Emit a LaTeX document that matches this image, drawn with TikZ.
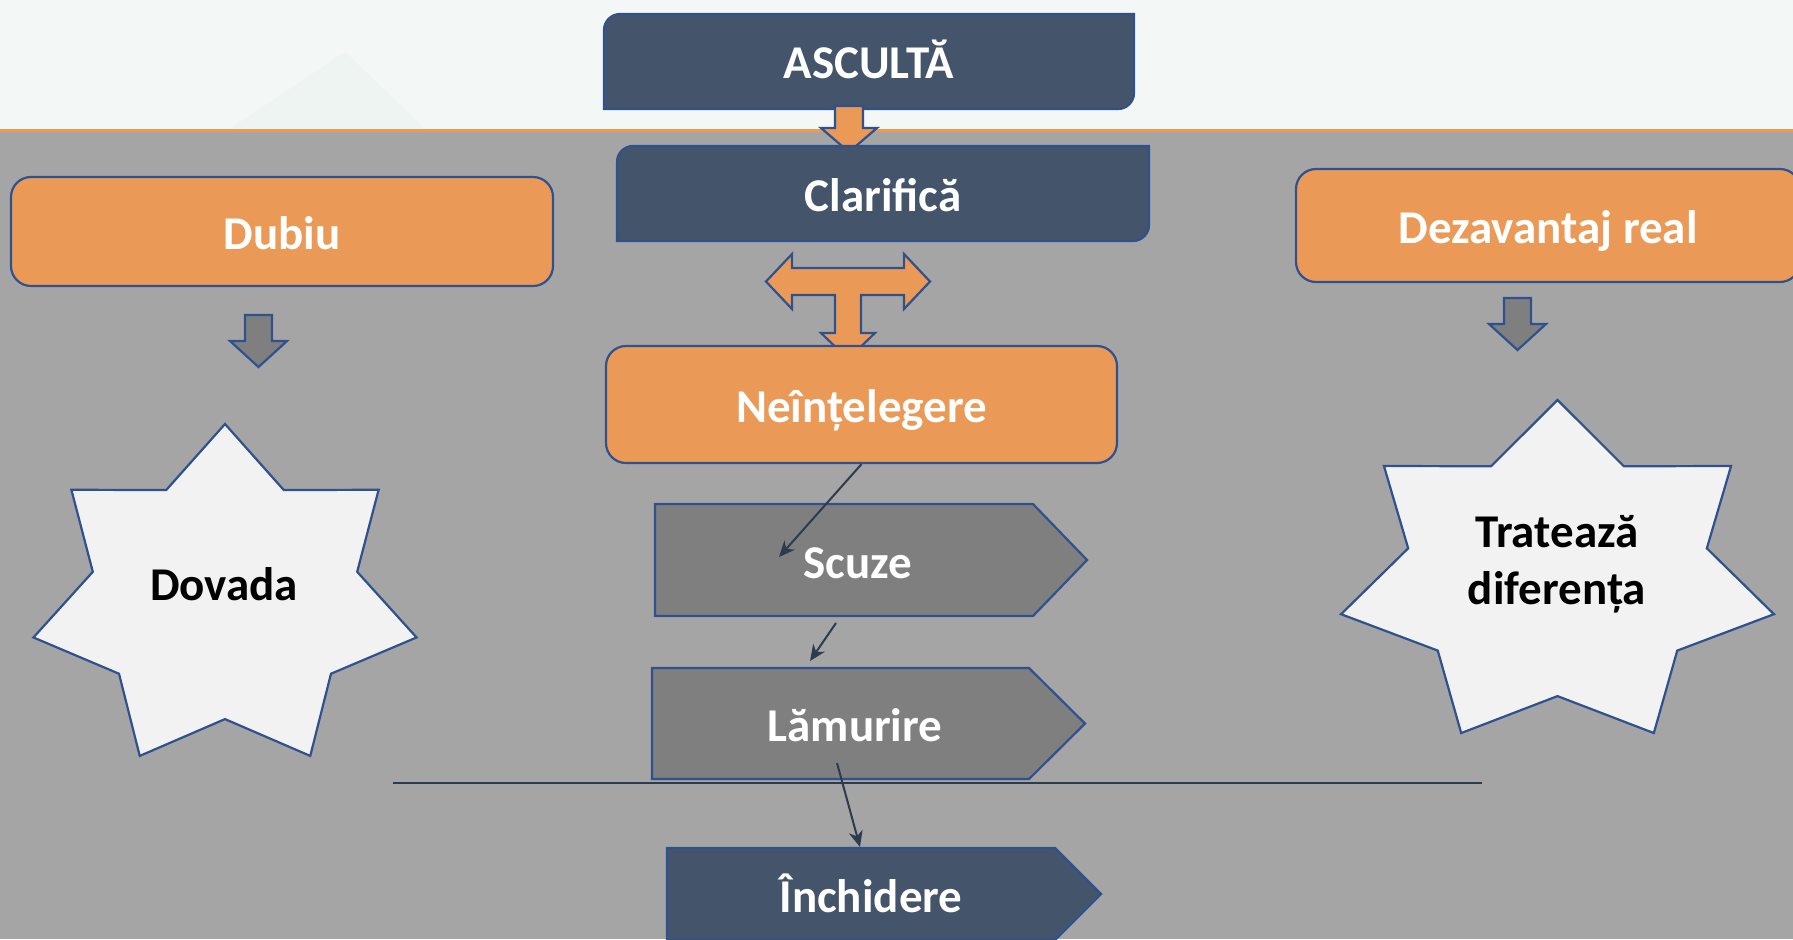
\documentclass[tikz,border=0pt]{standalone}
\usepackage{fontspec}
\setmainfont{Carlito}
\usetikzlibrary{arrows.meta,positioning,calc}

\definecolor{slate}{HTML}{44546A}
\definecolor{edgeblue}{HTML}{2F528F}
\definecolor{boxorange}{HTML}{EA9A56}
\definecolor{bggrey}{HTML}{A5A5A5}
\definecolor{plategrey}{HTML}{7F7F7F}
\definecolor{starwhite}{HTML}{F2F2F2}
\definecolor{topband}{HTML}{F3F7F6}
\definecolor{faintgreen}{HTML}{EDF4F1}
\definecolor{bandline}{HTML}{EE9A55}
\definecolor{linkdark}{HTML}{2E3B4E}

\tikzset{
  boxtext/.style={font=\fontsize{23.5}{28.5}\selectfont\bfseries, text=white, align=center,
    inner sep=0pt, text height=17.5pt, text depth=0pt},
  startext/.style={font=\fontsize{23.5}{28.5}\selectfont\bfseries, text=black, align=center, inner sep=0pt},
  outline/.style={draw=edgeblue, line width=1.1pt},
  orangebox/.style={boxtext, outline, fill=boxorange, rounded corners=10pt},
  link/.style={draw=linkdark, line width=1pt, -{Stealth[length=8pt,width=7pt,inset=2.5pt]}},
}

\begin{document}
\begin{tikzpicture}[x=0.5pt,y=-0.5pt]
  \useasboundingbox (0,0) rectangle (1793,939);
  % backdrop
  \fill[topband] (0,0) rectangle (1793,130);
  \fill[faintgreen] (230,129) -- (345,52) -- (425,129) -- cycle;
  \fill[bggrey] (0,130) rectangle (1793,939);
  \draw[bandline, line width=1.5pt] (0,130) -- (1793,130);

  % ASCULTA
  \draw[outline, fill=slate] (604,109) -- (604,30) arc[start angle=180,end angle=270,radius=16]
    -- (1134,14) -- (1134,93) arc[start angle=0,end angle=90,radius=16] -- cycle;
  \node[boxtext] (ascult) at (869,61) {ASCULTĂ};

  % orange arrow down
  \draw[outline, fill=boxorange] (835,106) -- (863,106) -- (863,128) -- (877,128) -- (849,152)
    -- (821,128) -- (835,128) -- cycle;

  % Clarifica
  \draw[outline, fill=slate] (617,241) -- (617,162) arc[start angle=180,end angle=270,radius=16]
    -- (1149,146) -- (1149,225) arc[start angle=0,end angle=90,radius=16] -- cycle;
  \node[boxtext] (clarif) at (883,194) {Clarifică};

  % three-way arrow
  \draw[outline, fill=boxorange] (766,281.5) -- (792,254) -- (792,268) -- (904,268) -- (904,254)
    -- (930,281.5) -- (904,309) -- (904,295) -- (861,295) -- (861,333) -- (875,333) -- (848,359)
    -- (821,333) -- (835,333) -- (835,295) -- (792,295) -- (792,309) -- cycle;

  % Neintelegere
  \node[orangebox, minimum width=255.5pt, minimum height=58.5pt] (neint) at (861.5,404.5) {Neînțelegere};

  % left column
  \node[orangebox, minimum width=271pt, minimum height=54.5pt] (dubiu) at (282,231.5) {Dubiu};
  \draw[outline, fill=plategrey] (245,315) -- (272,315) -- (272,341) -- (287,341) -- (258.5,367)
    -- (230,341) -- (245,341) -- cycle;
  \begin{scope}[shift={(225,598.6)}]
    \path[outline, fill=starwhite] (-90:196.5 and 174.6)
      \foreach \k in {1,...,13} { -- ({-90+\k*180/7}:{196.5*(1-0.31*mod(\k,2))} and {174.6*(1-0.31*mod(\k,2))}) }
      -- cycle;
  \end{scope}
  \node[startext] (dovada) at (224,584) {Dovada};

  % right column
  \node[orangebox, minimum width=252pt, minimum height=56.5pt] (dezav) at (1548,225.5) {Dezavantaj real};
  \draw[outline, fill=plategrey] (1504,298) -- (1531,298) -- (1531,324) -- (1546,324) -- (1517.5,350)
    -- (1489,324) -- (1504,324) -- cycle;
  \begin{scope}[shift={(1557.5,575.2)}]
    \path[outline, fill=starwhite] (-90:222 and 175.2)
      \foreach \k in {1,...,13} { -- ({-90+\k*180/7}:{222*(1-0.31*mod(\k,2))} and {175.2*(1-0.31*mod(\k,2))}) }
      -- cycle;
  \end{scope}
  \node[startext] (trateaza) at (1557,564) {Tratează\\diferența};

  % divider
  \draw[linkdark, line width=1pt] (393,783) -- (1482,783);

  % Scuze, Lamurire, Inchidere
  \draw[outline, fill=plategrey] (655,504) -- (1033,504) -- (1087,560) -- (1033,616) -- (655,616) -- cycle;
  \node[boxtext] (scuze) at (858,561) {Scuze};
  \draw[outline, fill=plategrey] (652,668) -- (1029,668) -- (1085,723.5) -- (1029,779) -- (652,779) -- cycle;
  \node[boxtext] (lamur) at (855,724) {Lămurire};
  \draw[outline, fill=slate] (667,848) -- (1055,848) -- (1101,894) -- (1055,940) -- (667,940) -- cycle;
  \node[boxtext] (inchid) at (871,895) {Închidere};

  % connectors
  \coordinate (scuzein) at (779,557);
  \coordinate (scuzeout) at (836,623);
  \coordinate (lamin) at (810,661);
  \coordinate (lamout) at (837,763);
  \coordinate (inchin) at (860,847);
  \draw[link] (neint.south) -- (scuzein);
  \draw[link] (scuzeout) -- (lamin);
  \draw[link] (lamout) -- (inchin);
\end{tikzpicture}
\end{document}
